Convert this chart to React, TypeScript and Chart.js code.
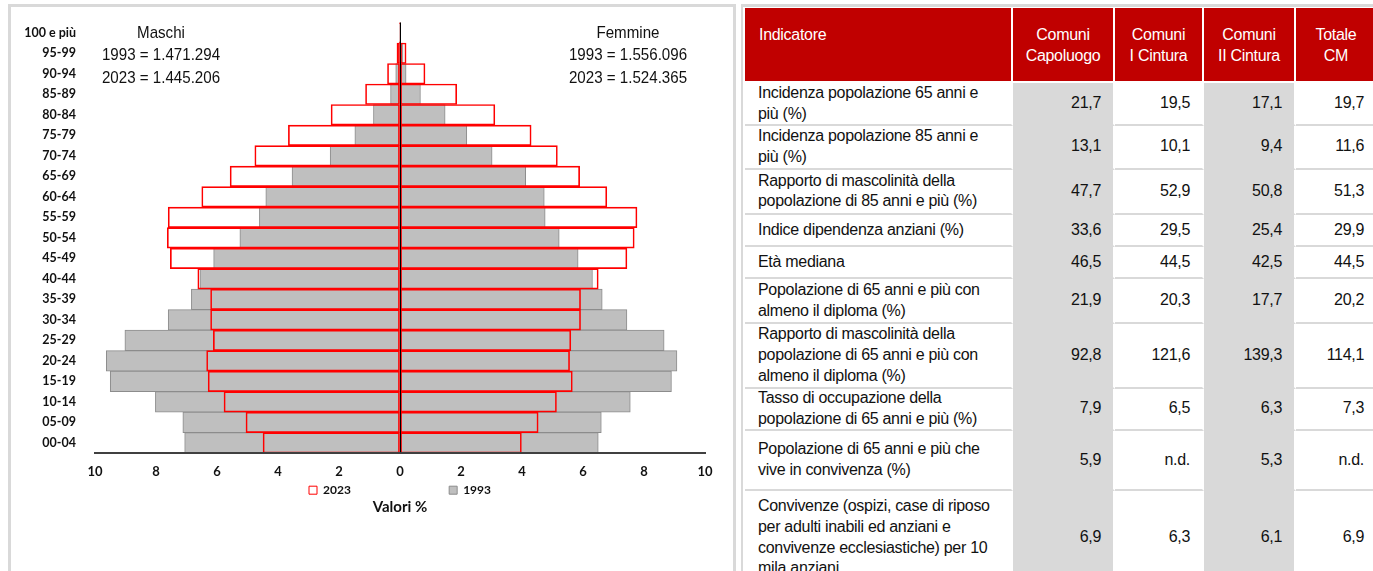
import React, { useEffect, useRef } from "react";
import { Chart, registerables } from "chart.js";

Chart.register(...registerables);

// ---------- DATA ----------
const ageGroups = [
  "100 e più", "95-99", "90-94", "85-89", "80-84", "75-79", "70-74", "65-69",
  "60-64", "55-59", "50-54", "45-49", "40-44", "35-39", "30-34", "25-29",
  "20-24", "15-19", "10-14", "05-09", "00-04",
];
// percent values, males shown on the left
const males1993 = [0.01, 0.05, 0.14, 0.31, 0.87, 1.48, 2.29, 3.54, 4.4, 4.61, 5.25, 6.11, 6.56, 6.84, 7.6, 9.02, 9.63, 9.5, 8.02, 7.12, 7.06];
const females1993 = [0.02, 0.1, 0.2, 0.67, 1.48, 2.19, 3.02, 4.12, 4.73, 4.76, 5.22, 5.84, 6.31, 6.63, 7.44, 8.66, 9.08, 8.9, 7.55, 6.6, 6.5];
const males2023 = [0.01, 0.1, 0.41, 1.13, 2.26, 3.66, 4.76, 5.57, 6.5, 7.6, 7.63, 7.53, 6.63, 6.21, 6.21, 6.12, 6.34, 6.29, 5.77, 5.05, 4.49];
const females2023 = [0.02, 0.2, 0.82, 1.86, 3.11, 4.3, 5.16, 5.89, 6.78, 7.77, 7.68, 7.44, 6.5, 5.92, 5.92, 5.6, 5.56, 5.65, 5.13, 4.53, 3.98];

const xTickValues = { min: -10, max: 10, step: 2 };
const legendYears = ["2023", "1993"];
const axisTitle = "Valori %";

const maleNotes = ["Maschi", "1993 = 1.471.294", "2023 = 1.445.206"];
const femaleNotes = ["Femmine", "1993 = 1.556.096", "2023 = 1.524.365"];

// table
const headers = ["Indicatore", "Comuni\nCapoluogo", "Comuni\nI Cintura", "Comuni\nII Cintura", "Totale\nCM"];
const indicators = [
  "Incidenza popolazione 65 anni e\npiù (%)",
  "Incidenza popolazione 85 anni e\npiù (%)",
  "Rapporto di mascolinità della\npopolazione di 85 anni e più (%)",
  "Indice dipendenza anziani (%)",
  "Età mediana",
  "Popolazione di 65 anni e più con\nalmeno il diploma (%)",
  "Rapporto di mascolinità della\npopolazione di 65 anni e più con\nalmeno il diploma (%)",
  "Tasso di occupazione della\npopolazione di 65 anni e più (%)",
  "Popolazione di 65 anni e più che\nvive in convivenza (%)",
  "Convivenze (ospizi, case di riposo\nper adulti inabili ed anziani e\nconvivenze ecclesiastiche) per 10\nmila anziani",
];
const capoluogo = ["21,7", "13,1", "47,7", "33,6", "46,5", "21,9", "92,8", "7,9", "5,9", "6,9"];
const primaCintura = ["19,5", "10,1", "52,9", "29,5", "44,5", "20,3", "121,6", "6,5", "n.d.", "6,3"];
const secondaCintura = ["17,1", "9,4", "50,8", "25,4", "42,5", "17,7", "139,3", "6,3", "5,3", "6,1"];
const totaleCM = ["19,7", "11,6", "51,3", "29,9", "44,5", "20,2", "114,1", "7,3", "n.d.", "6,9"];

// ---------- STYLE ----------
const RED = "#ff0000";
const GREY_FILL = "#bfbfbf";
const GREY_BORDER = "#8c8c8c";
const NARROW = "'Liberation Sans Narrow', 'Arial Narrow', 'Liberation Sans', Arial, sans-serif";
const LABEL_FONT = "Lato, 'Open Sans', sans-serif";

const colWidths = [268, 102, 89, 92, 80];
const rowHeights = [75, 43, 43.5, 45.5, 32, 32, 45, 64.5, 42.5, 60, 95];

function PyramidChart() {
  const ref = useRef<HTMLCanvasElement | null>(null);
  useEffect(() => {
    if (!ref.current) return;
    const chart = new Chart(ref.current, {
      type: "bar",
      data: {
        labels: ageGroups,
        datasets: [
          { label: legendYears[0], data: males2023.map((v) => -v), backgroundColor: "rgba(0,0,0,0)", borderColor: RED, borderWidth: 1, borderSkipped: false, grouped: false },
          { label: legendYears[0], data: females2023, backgroundColor: "rgba(0,0,0,0)", borderColor: RED, borderWidth: 1, borderSkipped: false, grouped: false },
          { label: legendYears[1], data: males1993.map((v) => -v), backgroundColor: GREY_FILL, borderColor: GREY_BORDER, borderWidth: 1, borderSkipped: false, grouped: false },
          { label: legendYears[1], data: females1993, backgroundColor: GREY_FILL, borderColor: GREY_BORDER, borderWidth: 1, borderSkipped: false, grouped: false },
        ] as any,
      },
      options: {
        indexAxis: "y",
        animation: false,
        responsive: false,
        devicePixelRatio: 1,
        datasets: { bar: { barPercentage: 1, categoryPercentage: 1 } } as any,
        layout: { padding: { top: 12.5, right: 30, left: 0, bottom: 33.6 } },
        scales: {
          x: {
            min: xTickValues.min,
            max: xTickValues.max,
            ticks: {
              stepSize: xTickValues.step,
              padding: 12,
              color: "#111",
              font: { family: LABEL_FONT, size: 13, weight: "bold", lineHeight: 1 },
              callback: (v: any) => String(Math.abs(Number(v))),
            },
            grid: {
              z: 1,
              drawTicks: false,
              lineWidth: 1,
              color: (ctx: any) => (ctx.tick && ctx.tick.value === 0 ? "#000" : "rgba(0,0,0,0)"),
            },
            border: { display: true, color: "#404040", width: 2, z: 1 },
            afterFit: (scale: any) => {
              scale.height = 26;
            },
          },
          y: {
            grid: {
              display: true,
              drawOnChartArea: false,
              drawTicks: true,
              tickLength: 16,
              color: "rgba(0,0,0,0)",
            },
            border: { display: false },
            ticks: {
              padding: 3,
              color: "#111",
              font: { family: LABEL_FONT, size: 12.5, weight: "bold" },
              autoSkip: false,
            },
            afterFit: (scale: any) => {
              scale.width = 85;
            },
          },
        },
        plugins: {
          tooltip: { enabled: false },
          legend: {
            position: "bottom",
            fullSize: false,
            labels: {
              boxWidth: 8,
              boxHeight: 8,
              padding: 5,
              color: "#111",
              font: { family: LABEL_FONT, size: 12, weight: "bold" },
              generateLabels: (c: any) => {
                const items = (Chart.defaults.plugins.legend.labels as any).generateLabels(c);
                return items
                  .filter((it: any) => it.datasetIndex === 0 || it.datasetIndex === 2)
                  .map((it: any) => (it.datasetIndex === 0 ? { ...it, text: it.text + " ".repeat(32) } : it));
              },
            },
          },
          title: {
            display: true,
            text: axisTitle,
            position: "bottom",
            fullSize: false,
            color: "#111",
            font: { family: LABEL_FONT, size: 15, weight: "bold" },
            padding: { top: -7.8, bottom: 0 },
          },
        },
      } as any,
    });
    return () => chart.destroy();
  }, []);
  return <canvas ref={ref} width={725} height={540} style={{ display: "block" }} />;
}

function Notes({ lines, cx }: { lines: string[]; cx: number }) {
  return (
    <div
      style={{
        position: "absolute",
        left: cx - 100,
        top: 21.75,
        width: 200,
        textAlign: "center",
        fontFamily: NARROW,
        fontSize: 17,
        lineHeight: "22.5px",
        color: "#111",
        whiteSpace: "pre",
        transform: "scaleX(0.89)",
        transformOrigin: "50% 0",
      }}
    >
      {lines.join("\n")}
    </div>
  );
}

function DataTable() {
  const cols = [indicators, capoluogo, primaCintura, secondaCintura, totaleCM];
  const cells: React.ReactNode[] = [];
  headers.forEach((h, c) => {
    cells.push(
      <div
        key={"h" + c}
        style={{
          background: "#c00000",
          color: "#fff",
          boxSizing: "border-box",
          borderRight: c < headers.length - 1 ? "2px solid #fff" : "none",
          borderBottom: "2px solid #fff",
          paddingTop: 16,
          paddingLeft: c === 0 ? 14 : 0,
          textAlign: c === 0 ? "left" : "center",
          whiteSpace: "pre",
          lineHeight: "21px",
        }}
      >
        {h}
      </div>
    );
  });
  indicators.forEach((_, r) => {
    cols.forEach((col, c) => {
      const grey = c === 1 || c === 3;
      cells.push(
        <div
          key={"c" + r + "-" + c}
          style={{
            background: grey ? "#d9d9d9" : "#fff",
            boxSizing: "border-box",
            borderBottom: "2px solid #d9d9d9",
            borderRight: c < cols.length - 1 ? "2px solid #fff" : "none",
            display: "flex",
            alignItems: "center",
            justifyContent: c === 0 ? "flex-start" : "flex-end",
            paddingLeft: c === 0 ? 13 : 0,
            paddingRight: c === 0 ? 0 : 12,
            whiteSpace: "pre",
            lineHeight: "20.7px",
            color: "#111",
          }}
        >
          {col[r]}
        </div>
      );
    });
  });
  return (
    <div
      style={{
        position: "absolute",
        left: 745,
        top: 8,
        display: "grid",
        gridTemplateColumns: colWidths.map((w) => w + "px").join(" "),
        gridTemplateRows: rowHeights.map((h) => h + "px").join(" "),
        fontFamily: NARROW,
        fontSize: 16,
        letterSpacing: "-0.3px",
      }}
    >
      {cells}
    </div>
  );
}

export default function App() {
  return (
    <div
      style={{
        position: "fixed",
        left: 0,
        top: 0,
        width: 1373,
        height: 571,
        overflow: "hidden",
        background: "#fff",
      }}
    >
      {/* left panel frame */}
      <div
        style={{
          position: "absolute",
          left: 8,
          top: 4,
          width: 728,
          height: 620,
          boxSizing: "border-box",
          borderLeft: "3px solid #d9d9d9",
          borderTop: "3px solid #d9d9d9",
          borderRight: "3px solid #d9d9d9",
        }}
      />
      {/* right panel frame */}
      <div
        style={{
          position: "absolute",
          left: 741,
          top: 4,
          width: 700,
          height: 620,
          boxSizing: "border-box",
          borderLeft: "2px solid #d9d9d9",
          borderTop: "3px solid #d9d9d9",
        }}
      />
      <div style={{ position: "absolute", left: 10, top: 10 }}>
        <PyramidChart />
      </div>
      <Notes lines={maleNotes} cx={161} />
      <Notes lines={femaleNotes} cx={628} />
      <DataTable />
    </div>
  );
}
